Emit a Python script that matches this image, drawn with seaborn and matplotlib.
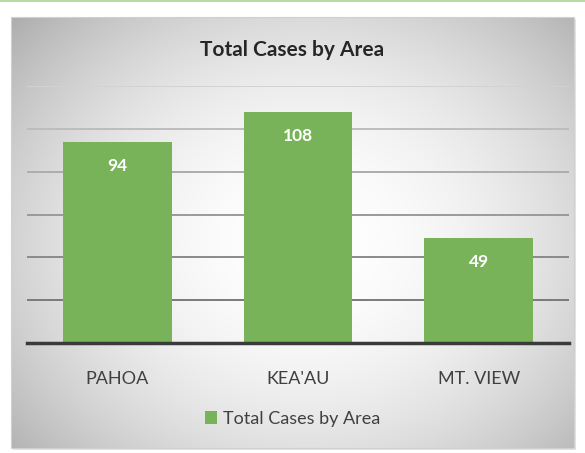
import numpy as np
import pandas as pd
import matplotlib
matplotlib.use("Agg")
import matplotlib.pyplot as plt
from matplotlib.patches import Rectangle
import seaborn as sns

areas = ["PAHOA", "KEA'AU", "MT. VIEW"]
cases = [94, 108, 49]
series_name = "Total Cases by Area"
title = "Total Cases by Area"
yticks = [0, 20, 40, 60, 80, 100, 120]

sns.set_theme(style="white")
plt.rcParams['font.family'] = ['Lato', 'DejaVu Sans']

W, H = 585, 453
fig = plt.figure(figsize=(W / 100, H / 100), dpi=100)
fig.patch.set_facecolor("white")

# background layer (pixel coordinates)
bg = fig.add_axes([0, 0, 1, 1], zorder=-5)
bg.axis("off")
x0, x1, y0, y1 = 11, 574, 17, 448
gx = np.linspace(-1, 1, 400)
gy = np.linspace(-1, 1, 300)
XX, YY = np.meshgrid(gx, gy)
cx, cy = 0.05, 0.05
r2 = ((XX - cx) / 1.0) ** 2 + ((YY - cy) / 1.1) ** 2
val = np.clip(1.0 - 0.16 * r2, 0, 1)
img = np.dstack([val, val, val])
bg.add_patch(Rectangle((x0 + 2, y0 + 2), x1 - x0, y1 - y0, facecolor="#e3e3e3",
                       edgecolor="none", zorder=0))
bg.imshow(img, extent=(x0, x1, y1, y0), aspect="auto", interpolation="bilinear", zorder=1)
bg.add_patch(Rectangle((x0, y0), x1 - x0, y1 - y0, facecolor="none", edgecolor="#d0d0d0",
                       lw=0.8, zorder=2))
bg.add_patch(Rectangle((0, 0), W, 2.2, facecolor="#b9dca4", edgecolor="none", zorder=2))
bg.set_xlim(0, W)
bg.set_ylim(H, 0)

# main plot
ax = fig.add_axes([27 / W, 1 - 343 / H, 542 / W, (343 - 86) / H])
ax.patch.set_alpha(0)
df = pd.DataFrame({"area": areas, "cases": cases})
sns.barplot(data=df, x="area", y="cases", color="#78b35a", saturation=1,
            width=0.6, label=series_name, ax=ax, zorder=3, linewidth=0, edgecolor="none")
ax.set_ylim(0, 120)
ax.set_xlim(-0.5, 2.5)
grid_colors = {20: "#7a7a7a", 40: "#8a8a8a", 60: "#9a9a9a", 80: "#acacac", 100: "#bdbdbd", 120: "#d2d2d2"}
for yv, c in grid_colors.items():
    ax.axhline(yv, color=c, lw=1.4, zorder=1)
ax.set_yticks(yticks)
ax.tick_params(axis="y", left=False, labelleft=False)
ax.tick_params(axis="x", bottom=False, labelsize=13, colors="#404040", pad=14)
for s in ["top", "right", "left"]:
    ax.spines[s].set_visible(False)
ax.spines["bottom"].set_color("#3a3a3a")
ax.spines["bottom"].set_linewidth(2.5)
ax.spines["bottom"].set_zorder(4)
ax.set_xlabel("")
ax.set_ylabel("")

for i, v in enumerate(cases):
    ax.annotate(str(v), (i, v), xytext=(0, -24), textcoords="offset pixels",
                ha="center", va="center", color="white", fontsize=12.5, fontweight="bold", zorder=5)

fig.text(0.5, 1 - 50 / H, title, ha="center", va="center", fontsize=15,
         fontweight="bold", color="#262626")

leg = ax.legend(loc="center", bbox_to_anchor=(0.5, 1 - 419 / H), bbox_transform=fig.transFigure,
                frameon=False, fontsize=13, handlelength=0.7, handleheight=0.7, handletextpad=0.3)
for t in leg.get_texts():
    t.set_color("#404040")

fig.savefig("out.png", dpi=100)
